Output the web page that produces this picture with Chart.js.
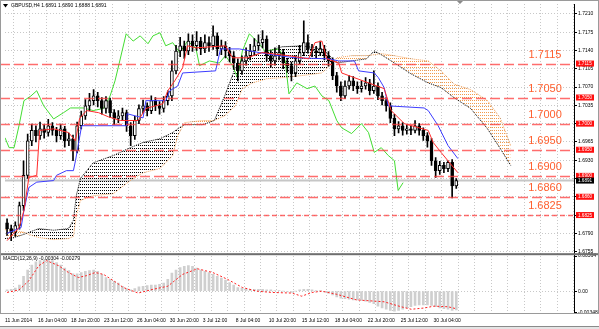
<!DOCTYPE html>
<html>
<head>
<meta charset="utf-8">
<script src="https://cdn.jsdelivr.net/npm/chart.js@4"></script>
<style>
  html, body { margin: 0; padding: 0; background: #fff; }
  #c { display: block; }
</style>
</head>
<body>
<canvas id="c" width="599" height="329"></canvas>
<script>
// GBPUSD H4, one candle slot = 2 bars of the original chart
const timeLabels = ["11 Jun 2014", "16 Jun 04:00", "18 Jun 20:00", "23 Jun 12:00", "26 Jun 04:00",
  "30 Jun 20:00", "3 Jul 12:00", "8 Jul 04:00", "10 Jul 20:00", "15 Jul 12:00", "18 Jul 04:00",
  "22 Jul 20:00", "25 Jul 12:00", "30 Jul 04:00"];
const priceTicks = [1.7210, 1.7175, 1.7140, 1.7105, 1.7070, 1.7035, 1.7000, 1.6965, 1.6930,
  1.6895, 1.6860, 1.6825, 1.6790, 1.6755];
const macdTicks = [0.00564, 0, -0.00348];
const macdTickLabels = ["0.00564", "0.00", "-0.00348"];
const levels = [1.7115, 1.7050, 1.7000, 1.6950, 1.6900, 1.6860, 1.6825];
const lastPrice = 1.6891;

const opens = [
  1.6810, 1.6799, 1.6792, 1.6805, 1.6843, 1.6901, 1.6967, 1.6987, 1.6977, 1.6990,
  1.6983, 1.6996, 1.6987, 1.6977, 1.6990, 1.6967, 1.6971, 1.6948, 1.6996, 1.7015,
  1.7034, 1.7044, 1.7053, 1.7044, 1.7029, 1.7044, 1.7021, 1.7010, 1.7015, 1.7021,
  1.6996, 1.6977, 1.7006, 1.7029, 1.7034, 1.7025, 1.7044, 1.7034, 1.7029, 1.7044,
  1.7053, 1.7101, 1.7139, 1.7149, 1.7139, 1.7158, 1.7149, 1.7158, 1.7143, 1.7155,
  1.7149, 1.7168, 1.7143, 1.7149, 1.7139, 1.7130, 1.7116, 1.7101, 1.7120, 1.7130,
  1.7139, 1.7149, 1.7155, 1.7162, 1.7130, 1.7120, 1.7130, 1.7136, 1.7116, 1.7111,
  1.7097, 1.7120, 1.7136, 1.7155, 1.7143, 1.7139, 1.7136, 1.7143, 1.7130, 1.7120,
  1.7092, 1.7072, 1.7053, 1.7072, 1.7082, 1.7072, 1.7067, 1.7072, 1.7078, 1.7063,
  1.7072, 1.7053, 1.7044, 1.7034, 1.7010, 1.6990, 1.6996, 1.6987, 1.6990, 1.6987,
  1.6996, 1.6987, 1.6977, 1.6967, 1.6929, 1.6910, 1.6920, 1.6914, 1.6926, 1.6881];
const highs = [
  1.6818, 1.6806, 1.6812, 1.6850, 1.6929, 1.6980, 1.6999, 1.6996, 1.7003, 1.6998,
  1.7008, 1.7002, 1.6993, 1.6999, 1.6995, 1.6982, 1.6978, 1.7003, 1.7024, 1.7046,
  1.7058, 1.7065, 1.7060, 1.7050, 1.7052, 1.7049, 1.7027, 1.7025, 1.7030, 1.7026,
  1.7002, 1.7014, 1.7036, 1.7045, 1.7040, 1.7053, 1.7050, 1.7042, 1.7052, 1.7063,
  1.7120, 1.7150, 1.7165, 1.7158, 1.7172, 1.7170, 1.7176, 1.7165, 1.7170, 1.7166,
  1.7187, 1.7174, 1.7160, 1.7157, 1.7146, 1.7138, 1.7124, 1.7130, 1.7145, 1.7152,
  1.7163, 1.7170, 1.7178, 1.7168, 1.7140, 1.7145, 1.7150, 1.7142, 1.7125, 1.7118,
  1.7130, 1.7150, 1.7197, 1.7170, 1.7152, 1.7148, 1.7158, 1.7150, 1.7138, 1.7126,
  1.7098, 1.7080, 1.7082, 1.7092, 1.7090, 1.7080, 1.7082, 1.7088, 1.7085, 1.7101,
  1.7078, 1.7060, 1.7050, 1.7040, 1.7018, 1.7004, 1.7002, 1.6998, 1.6996, 1.7006,
  1.7000, 1.6992, 1.6983, 1.6972, 1.6935, 1.6928, 1.6926, 1.6929, 1.6931, 1.6895];
const lows = [
  1.6786, 1.6776, 1.6784, 1.6798, 1.6834, 1.6895, 1.6958, 1.6965, 1.6970, 1.6972,
  1.6976, 1.6978, 1.6965, 1.6970, 1.6955, 1.6958, 1.6929, 1.6944, 1.6990, 1.7008,
  1.7025, 1.7036, 1.7032, 1.7018, 1.7020, 1.7012, 1.6998, 1.7002, 1.7006, 1.6985,
  1.6958, 1.6970, 1.7000, 1.7020, 1.7015, 1.7019, 1.7025, 1.7018, 1.7022, 1.7036,
  1.7044, 1.7095, 1.7128, 1.7125, 1.7132, 1.7138, 1.7140, 1.7132, 1.7136, 1.7138,
  1.7142, 1.7130, 1.7132, 1.7126, 1.7118, 1.7104, 1.7082, 1.7094, 1.7112, 1.7122,
  1.7130, 1.7140, 1.7145, 1.7120, 1.7108, 1.7112, 1.7122, 1.7105, 1.7098, 1.7082,
  1.7090, 1.7114, 1.7130, 1.7135, 1.7128, 1.7126, 1.7130, 1.7122, 1.7110, 1.7084,
  1.7060, 1.7044, 1.7048, 1.7066, 1.7063, 1.7058, 1.7060, 1.7066, 1.7055, 1.7058,
  1.7046, 1.7036, 1.7024, 1.7002, 1.6977, 1.6982, 1.6978, 1.6980, 1.6979, 1.6982,
  1.6978, 1.6968, 1.6955, 1.6920, 1.6897, 1.6903, 1.6906, 1.6908, 1.6858, 1.6876];
const closes = [
  1.6799, 1.6792, 1.6805, 1.6843, 1.6901, 1.6967, 1.6987, 1.6977, 1.6990, 1.6983,
  1.6996, 1.6987, 1.6977, 1.6990, 1.6967, 1.6971, 1.6948, 1.6996, 1.7015, 1.7034,
  1.7044, 1.7053, 1.7044, 1.7029, 1.7044, 1.7021, 1.7010, 1.7015, 1.7021, 1.6996,
  1.6977, 1.7006, 1.7029, 1.7034, 1.7025, 1.7044, 1.7034, 1.7029, 1.7044, 1.7053,
  1.7101, 1.7139, 1.7149, 1.7139, 1.7158, 1.7149, 1.7158, 1.7143, 1.7155, 1.7149,
  1.7168, 1.7143, 1.7149, 1.7139, 1.7130, 1.7116, 1.7101, 1.7120, 1.7130, 1.7139,
  1.7149, 1.7155, 1.7162, 1.7130, 1.7120, 1.7130, 1.7136, 1.7116, 1.7111, 1.7097,
  1.7120, 1.7136, 1.7155, 1.7143, 1.7139, 1.7136, 1.7143, 1.7130, 1.7120, 1.7092,
  1.7072, 1.7053, 1.7072, 1.7082, 1.7072, 1.7067, 1.7072, 1.7078, 1.7063, 1.7072,
  1.7053, 1.7044, 1.7034, 1.7010, 1.6990, 1.6996, 1.6987, 1.6990, 1.6987, 1.6996,
  1.6987, 1.6977, 1.6967, 1.6929, 1.6910, 1.6920, 1.6914, 1.6926, 1.6881, 1.6891];

const tenkanAt = [0.5, 3.4, 4.6, 5.8, 7.7, 8.4, 11.8, 15.4, 17.1, 18.1, 19.8, 22.7, 25.1, 28.0,
  32.3, 34.2, 38.3, 39.5, 41.2, 43.1, 44.3, 46.3, 53.5, 55.2, 58.8, 62.4, 68.9, 73.7, 75.2, 76.9,
  78.1, 81.0, 81.7, 88.2, 92.0, 93.7, 96.9, 102.7, 103.9, 105.8, 109.9];
const tenkan = [1.6776, 1.6801, 1.6834, 1.6897, 1.6901, 1.6987, 1.6990, 1.6983, 1.6967, 1.7010,
  1.7025, 1.7021, 1.7013, 1.7006, 1.7006, 1.7029, 1.7038, 1.7063, 1.7082, 1.7107,
  1.7149, 1.7145, 1.7149, 1.7126, 1.7126, 1.7136, 1.7130, 1.7124, 1.7155, 1.7158,
  1.7124, 1.7116, 1.7097, 1.7078, 1.7067, 1.7025, 1.7000, 1.6987, 1.6964, 1.6945, 1.6906];
const kijunAt = [0.5, 3.9, 4.6, 5.8, 7.7, 11.8, 12.5, 14.9, 16.6, 17.1, 18.6, 29.4, 29.6, 33.5,
  34.2, 39.0, 40.0, 41.9, 43.1, 51.1, 52.3, 56.9, 61.7, 66.5, 70.4, 78.6, 81.0, 84.8, 85.8, 89.6,
  90.6, 92.0, 93.0, 101.7, 102.7, 105.1, 107.5, 109.9];
const kijun = [1.6790, 1.6801, 1.6834, 1.6878, 1.6888, 1.6891, 1.6901, 1.6910, 1.6910, 1.6929,
  1.6996, 1.6996, 1.7019, 1.7011, 1.7044, 1.7044, 1.7063, 1.7072, 1.7097, 1.7101,
  1.7143, 1.7143, 1.7136, 1.7130, 1.7126, 1.7124, 1.7120, 1.7120, 1.7101, 1.7097,
  1.7088, 1.7069, 1.7034, 1.7030, 1.7025, 1.6996, 1.6958, 1.6933];
const chikouAt = [0, 1.0, 2.2, 3.4, 4.6, 6.3, 7.7, 9.4, 11.8, 14.2, 15.9, 19.0, 21.4, 23.9, 25.5,
  26.7, 27.7, 29.4, 31.1, 32.8, 34.7, 35.9, 37.6, 39.0, 40.7, 42.4, 44.3, 46.3, 47.2, 49.6, 52.0,
  53.5, 55.2, 56.4, 57.6, 59.3, 61.7, 63.1, 66.5, 68.0, 68.9, 70.8, 73.3, 75.2, 76.9, 78.6, 80.5,
  81.7, 84.1, 86.5, 88.2, 89.6, 91.3, 93.0, 94.5, 95.4, 96.6];
const chikou = [1.6973, 1.6954, 1.6954, 1.6996, 1.7044, 1.7053, 1.7063, 1.7034, 1.7009, 1.7021,
  1.7030, 1.7030, 1.7025, 1.7029, 1.7053, 1.7082, 1.7115, 1.7172, 1.7158, 1.7168,
  1.7153, 1.7168, 1.7174, 1.7149, 1.7155, 1.7136, 1.7158, 1.7145, 1.7111, 1.7120,
  1.7116, 1.7130, 1.7111, 1.7088, 1.7139, 1.7172, 1.7153, 1.7139, 1.7143, 1.7120,
  1.7057, 1.7078, 1.7067, 1.7072, 1.7053, 1.7044, 1.7006, 1.6992, 1.6981, 1.7000,
  1.6983, 1.6945, 1.6954, 1.6939, 1.6929, 1.6872, 1.6887];
const cloudAt = [0, 2.2, 4.6, 5.8, 8.2, 11.8, 15.4, 16.6, 17.3, 18.3, 21.4, 26.3, 30.4, 33.5,
  37.6, 40.7, 41.9, 43.6, 48.0, 50.8, 53.3, 55.9, 57.6, 60.0, 63.6, 67.2, 72.0, 76.9, 78.8, 80.5,
  84.1, 87.7, 89.6, 91.3, 94.5, 98.6, 102.7, 105.8, 108.9, 113.0, 117.1, 120.2, 122.7];
const spanA = [1.6780, 1.6782, 1.6788, 1.6792, 1.6799, 1.6796, 1.6799, 1.6815, 1.6862, 1.6895,
  1.6925, 1.6939, 1.6954, 1.6964, 1.6971, 1.6983, 1.6990, 1.6998, 1.6998, 1.7006,
  1.7053, 1.7107, 1.7120, 1.7130, 1.7139, 1.7147, 1.7149, 1.7143, 1.7130, 1.7116,
  1.7120, 1.7124, 1.7139, 1.7132, 1.7116, 1.7095, 1.7078, 1.7069, 1.7050, 1.7029,
  1.6990, 1.6952, 1.6920];
const spanB = [1.6797, 1.6796, 1.6792, 1.6788, 1.6782, 1.6778, 1.6780, 1.6784, 1.6824, 1.6853,
  1.6862, 1.6866, 1.6891, 1.6906, 1.6914, 1.6939, 1.6977, 1.7002, 1.7006, 1.7006,
  1.7015, 1.7034, 1.7067, 1.7078, 1.7086, 1.7088, 1.7092, 1.7097, 1.7111, 1.7126,
  1.7130, 1.7130, 1.7132, 1.7134, 1.7130, 1.7124, 1.7120, 1.7101, 1.7076, 1.7065,
  1.7044, 1.7010, 1.6958];

// MACD(12,26,9)
const macdHist = [
  0.0002, 0.0003, 0.0005, 0.0010, 0.0024, 0.0034, 0.0042, 0.0047, 0.0049, 0.0050,
  0.0050, 0.0049, 0.0046, 0.0042, 0.0037, 0.0033, 0.0028, 0.0028, 0.0030, 0.0032,
  0.0033, 0.0034, 0.0032, 0.0027, 0.0022, 0.0019, 0.0016, 0.0013, 0.0008, 0.0004,
  0.0002, 0.0004, 0.0007, 0.0008, 0.0009, 0.0010, 0.0010, 0.0011, 0.0013, 0.0019,
  0.0029, 0.0034, 0.0038, 0.0040, 0.0041, 0.0040, 0.0037, 0.0034, 0.0032, 0.0030,
  0.0027, 0.0024, 0.0021, 0.0018, 0.0014, 0.0010, 0.0006, 0.0005, 0.0004, 0.0003,
  0.0003, 0.0003, 0.0003, 0.0002, 0.0002, 0.0001, 0.0001, 0.0000, -0.0001, -0.0002,
  0.0000, 0.0002, 0.0003, 0.0003, 0.0002, 0.0001, 0.0001, -0.0001, -0.0003, -0.0006,
  -0.0009, -0.0011, -0.0012, -0.0013, -0.0014, -0.0014, -0.0015, -0.0016, -0.0018, -0.0020,
  -0.0024, -0.0027, -0.0029, -0.0031, -0.0032, -0.0031, -0.0029, -0.0027, -0.0025, -0.0023,
  -0.0022, -0.0022, -0.0022, -0.0023, -0.0025, -0.0027, -0.0028, -0.0029, -0.0031, -0.0030];
const signalAt = [0.5, 3.4, 5.8, 8.2, 10.1, 13.0, 15.4, 17.8, 19.8, 21.9, 23.9, 26.3, 28.7, 32.3,
  35.9, 39.5, 43.1, 46.7, 50.4, 54.0, 57.6, 61.2, 64.8, 69.6, 72.0, 74.5, 76.9, 80.5, 85.3, 92.0,
  96.1, 98.6, 101.7, 104.1, 107.5, 109.4];
const signal = [-0.0002, 0.0002, 0.0017, 0.0041, 0.0049, 0.0041, 0.0030, 0.0022, 0.0025, 0.0030,
  0.0027, 0.0017, 0.0006, -0.0003, 0.0003, 0.0008, 0.0027, 0.0036, 0.0030, 0.0019,
  0.0006, 0.0000, -0.0002, -0.0003, -0.0008, -0.0002, 0.0000, -0.0005, -0.0014, -0.0017,
  -0.0025, -0.0029, -0.0027, -0.0024, -0.0025, -0.0028];

const pts = (xs, ys) => xs.map((x, i) => ({ x: x, y: ys[i] }));
const slotOf = i => i + 0.5;
const ctx = document.getElementById("c").getContext("2d");

// dotted hatching like the terminal's cloud fill
function dots(color) {
  const t = document.createElement("canvas");
  t.width = 2; t.height = 3;
  const g = t.getContext("2d");
  g.fillStyle = color;
  g.fillRect(0, 1, 1, 1);
  return ctx.createPattern(t, "repeat");
}

const smallFont = { family: "Liberation Sans", size: 5 };

const overlay = {
  id: "overlay",
  beforeDatasetsDraw(chart) {
    const { ctx, chartArea: a, scales: { y } } = chart;
    const py = y.getPixelForValue(lastPrice);
    ctx.save();
    ctx.strokeStyle = "#c6c6c6";
    ctx.lineWidth = 2;
    ctx.beginPath(); ctx.moveTo(a.left, py); ctx.lineTo(a.right, py); ctx.stroke();
    ctx.restore();
  },
  afterDatasetsDraw(chart) {
    const { ctx, chartArea: a, scales: { y } } = chart;
    ctx.save();
    levels.forEach((lv, k) => {
      const py = Math.round(y.getPixelForValue(lv)) + 0.5;
      ctx.strokeStyle = "rgba(255,60,60,0.75)";
      ctx.lineWidth = 1.5;
      ctx.setLineDash(k === levels.length - 1 ? [5, 3] : [10, 4]);
      ctx.beginPath(); ctx.moveTo(0, py); ctx.lineTo(a.right, py); ctx.stroke();
      ctx.setLineDash([]);
      ctx.fillStyle = "#ff5f2e";
      ctx.font = '11px "Liberation Sans"';
      ctx.textAlign = "center";
      ctx.textBaseline = "middle";
      ctx.fillText(lv.toFixed(4), a.right - 29, py - 10);
    });
    ctx.restore();
  },
  afterDraw(chart) {
    const { ctx, chartArea: a, scales: { x, y } } = chart;
    ctx.save();
    // pane separator and frame
    ctx.fillStyle = "#6e6e6e";
    ctx.fillRect(0, y.bottom, chart.width, 2);
    ctx.strokeStyle = "#9a9a9a";
    ctx.lineWidth = 1;
    ctx.strokeRect(0.5, 0.5, chart.width - 1, a.bottom);
    ctx.fillStyle = "#e4e4e4";
    ctx.fillRect(0, 326, chart.width, 3);
    ctx.fillStyle = "#8a8a8a";
    ctx.fillRect(0, 326, chart.width, 1);
    // price boxes on the axis
    ctx.font = '4.6px "Liberation Sans"';
    ctx.textBaseline = "middle";
    ctx.textAlign = "left";
    const box = (v, bg) => {
      const py = y.getPixelForValue(v);
      ctx.fillStyle = bg;
      ctx.fillRect(a.right + 2, py - 3, 18, 6);
      ctx.fillStyle = "#fff";
      ctx.fillText(v.toFixed(4), a.right + 4, py + 0.3);
    };
    levels.forEach(lv => box(lv, "#ff1010"));
    box(lastPrice, "#000");
    // chart-shift marker
    const sx = x.getPixelForValue(110.4);
    ctx.fillStyle = "#8a8a8a";
    ctx.beginPath(); ctx.moveTo(sx - 3, 1); ctx.lineTo(sx + 3, 1); ctx.lineTo(sx, 4); ctx.fill();
    // headers
    ctx.fillStyle = "#000";
    ctx.beginPath(); ctx.moveTo(3, 4); ctx.lineTo(8, 4); ctx.lineTo(5.5, 7.5); ctx.fill();
    ctx.font = '5px "Liberation Sans"';
    ctx.fillText("GBPUSD,H4 1.6891 1.6890 1.6888 1.6891", 11, 6);
    ctx.fillText("MACD(12,26,9) -0.00304 -0.00279", 3, 259);
    ctx.restore();
  }
};

new Chart(ctx, {
  type: "line",
  data: {
    datasets: [
      {
        label: "Senkou Span A", data: pts(cloudAt, spanA), yAxisID: "y",
        borderColor: "#000", borderWidth: 1, borderDash: [1, 1], pointRadius: 0,
        fill: { target: 1, above: dots("#000"), below: dots("#f29a4a") }, order: 10
      },
      {
        label: "Senkou Span B", data: pts(cloudAt, spanB), yAxisID: "y",
        borderColor: "#f4a25a", borderWidth: 1, borderDash: [1, 1], pointRadius: 0,
        fill: false, order: 10
      },
      {
        type: "bar", label: "MACD", yAxisID: "m",
        data: macdHist.map((v, i) => ({ x: slotOf(i), y: v })),
        backgroundColor: "#cfcfcf", barThickness: 2, grouped: false, order: 9
      },
      {
        label: "Chikou Span", data: pts(chikouAt, chikou), yAxisID: "y",
        borderColor: "#44dd33", borderWidth: 1, pointRadius: 0, order: 6
      },
      {
        type: "bar", label: "wick", yAxisID: "y",
        data: closes.map((c, i) => ({ x: slotOf(i), y: [lows[i], highs[i]] })),
        backgroundColor: "#000", barThickness: 1, grouped: false, order: 5
      },
      {
        type: "bar", label: "body", yAxisID: "y",
        data: closes.map((c, i) => ({ x: slotOf(i), y: [opens[i], c] })),
        backgroundColor: closes.map((c, i) => c >= opens[i] ? "#fff" : "#000"),
        borderColor: "#000", borderWidth: 1, borderSkipped: false,
        barThickness: 3, grouped: false, order: 4
      },
      {
        label: "Kijun-sen", data: pts(kijunAt, kijun), yAxisID: "y",
        borderColor: "#3c3cff", borderWidth: 1, pointRadius: 0, order: 3
      },
      {
        label: "Tenkan-sen", data: pts(tenkanAt, tenkan), yAxisID: "y",
        borderColor: "#ff2a2a", borderWidth: 1, pointRadius: 0, order: 2
      },
      {
        label: "Signal", data: pts(signalAt, signal), yAxisID: "m",
        borderColor: "#ff2020", borderWidth: 1, borderDash: [2, 2], pointRadius: 0, order: 1
      }
    ]
  },
  options: {
    responsive: false,
    devicePixelRatio: 1,
    animation: false,
    layout: { padding: { top: 3, left: 1, right: 0, bottom: 0 } },
    plugins: { legend: { display: false }, tooltip: { enabled: false } },
    elements: { line: { tension: 0 } },
    scales: {
      x: {
        type: "linear", min: 0, max: 138.07, offset: false,
        afterBuildTicks: s => { s.ticks = Array.from({ length: 35 }, (_, k) => ({ value: k * 4 })); },
        afterFit: s => { s.height = 16; },
        ticks: {
          autoSkip: false, maxRotation: 0, align: "start", padding: 5, color: "#000", font: smallFont,
          callback: (v, i) => (i % 2 ? "" : (timeLabels[i / 2] || ""))
        },
        grid: { color: "#c8c8c8", drawTicks: false, borderDash: [1, 2] },
        border: { display: false, dash: [1, 2] }
      },
      y: {
        type: "linear", position: "right", stack: "panes", stackWeight: 250,
        min: 1.6752, max: 1.7229,
        afterBuildTicks: s => { s.ticks = priceTicks.map(v => ({ value: v })); },
        afterFit: s => { s.width = 25; },
        ticks: { color: "#000", padding: 1, font: smallFont, callback: v => v.toFixed(4) },
        grid: { color: "#c8c8c8", tickColor: "#000", tickLength: 3, tickBorderDash: [], borderDash: [1, 2] },
        border: { display: true, color: "#000", dash: [1, 2] }
      },
      m: {
        type: "linear", position: "right", stack: "panes", stackWeight: 60,
        min: -0.0035, max: 0.0061,
        afterBuildTicks: s => { s.ticks = macdTicks.map(v => ({ value: v })); },
        afterFit: s => { s.width = 25; },
        ticks: { color: "#000", padding: 1, font: smallFont, callback: (v, i) => macdTickLabels[i] },
        grid: {
          color: c => (c.tick && c.tick.value === 0 ? "#c8c8c8" : "rgba(0,0,0,0)"),
          tickColor: "#000", tickLength: 3, tickBorderDash: [], borderDash: [1, 2]
        },
        border: { display: true, color: "#000", dash: [1, 2] }
      }
    }
  },
  plugins: [overlay]
});
</script>
</body>
</html>
